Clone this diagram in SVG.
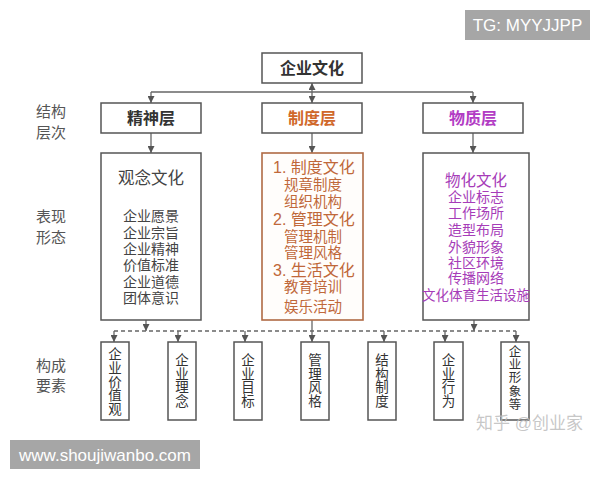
<svg xmlns="http://www.w3.org/2000/svg" width="600" height="480" viewBox="0 0 600 480">
<defs>
<marker id="ah" viewBox="0 0 10 10" refX="10" refY="5" markerWidth="7" markerHeight="7" markerUnits="userSpaceOnUse" orient="auto-start-reverse">
<path d="M0,0 L10,5 L0,10 z" fill="#555"/>
</marker>
<style>
text{font-family:"Liberation Sans","Noto Sans CJK SC",sans-serif;}
.box{fill:#fff;stroke:#555;stroke-width:1.5;}
.conn{fill:none;stroke:#666;stroke-width:1.3;}
.dash{fill:none;stroke:#666;stroke-width:1.3;stroke-dasharray:4 3;}
.lbl{font-size:15px;fill:#555;}
.ttl{font-size:16px;font-weight:bold;fill:#333;text-anchor:middle;dominant-baseline:central;}
.mid{fill:#c0683a;}
.pur{fill:#a63cb8;}
.vt{font-size:13.5px;fill:#333;text-anchor:middle;dominant-baseline:central;}
.wm{fill:#a6a6a6;}
.wmt{font-size:17px;fill:#fff;dominant-baseline:central;}
</style>
</defs>
<rect width="600" height="480" fill="#fff"/>

<g id="watermark-tg"><rect class="wm" x="465" y="10" width="125" height="30"/><text class="wmt" x="527.5" y="25.5" text-anchor="middle">TG: MYYJJPP</text></g>

<g id="row-labels" class="lbl">
<text x="36" y="117">结构</text><text x="36" y="138">层次</text>
<text x="36" y="222">表现</text><text x="36" y="243">形态</text>
<text x="36" y="371">构成</text><text x="36" y="391">要素</text>
</g>

<g id="connectors">
<path class="conn" d="M151,92 H473"/>
<path class="conn" d="M151,92 V103" marker-end="url(#ah)"/>
<path class="conn" d="M473,92 V103" marker-end="url(#ah)"/>
<path class="conn" d="M312,83 V103" marker-start="url(#ah)" marker-end="url(#ah)"/>
<path class="conn" d="M151,133 V153" marker-end="url(#ah)"/>
<path class="conn" d="M312,133 V153" marker-end="url(#ah)"/>
<path class="conn" d="M473,133 V153" marker-end="url(#ah)"/>
<path class="conn" d="M146,320 V331" marker-end="url(#ah)"/>
<path class="conn" d="M474,320 V331" marker-end="url(#ah)"/>
<path class="conn" d="M312,320 V342" marker-end="url(#ah)"/>
<path class="dash" d="M114,331 H516"/>
<path class="conn" d="M114,331 V342" marker-end="url(#ah)"/>
<path class="conn" d="M178,331 V342" marker-end="url(#ah)"/>
<path class="conn" d="M245,331 V342" marker-end="url(#ah)"/>
<path class="conn" d="M384,331 V342" marker-end="url(#ah)"/>
<path class="conn" d="M445,331 V342" marker-end="url(#ah)"/>
<path class="conn" d="M516,331 V342" marker-end="url(#ah)"/>
</g>

<g id="n-corp"><rect class="box" x="262" y="53" width="100" height="30"/><text class="ttl" x="312" y="68">企业文化</text></g>
<g id="n-spirit"><rect class="box" x="101" y="103" width="100" height="30"/><text class="ttl" x="151" y="118">精神层</text></g>
<g id="n-system"><rect class="box" x="262" y="103" width="100" height="30"/><text class="ttl" x="312" y="118" style="fill:#d0682a">制度层</text></g>
<g id="n-material"><rect class="box" x="423" y="103" width="100" height="30"/><text class="ttl" x="473" y="118" style="fill:#b23cc4">物质层</text></g>

<g id="n-concept">
<rect class="box" x="101" y="153" width="100" height="167"/>
<text x="151" y="184" font-size="16.5" fill="#444" text-anchor="middle">观念文化</text>
<g font-size="14" fill="#444" text-anchor="middle">
<text x="151" y="221">企业愿景</text>
<text x="151" y="238">企业宗旨</text>
<text x="151" y="254">企业精神</text>
<text x="151" y="270">价值标准</text>
<text x="151" y="287">企业道德</text>
<text x="151" y="303">团体意识</text>
</g>
</g>

<g id="n-institution">
<rect x="262" y="153" width="101" height="167" fill="#fffdfb" stroke="#b06a44" stroke-width="1.6"/>
<g class="mid">
<text x="273" y="173" font-size="16">1. 制度文化</text>
<text x="284" y="190" font-size="14.5">规章制度</text>
<text x="284" y="207" font-size="14.5">组织机构</text>
<text x="273" y="225" font-size="16">2. 管理文化</text>
<text x="284" y="242" font-size="14.5">管理机制</text>
<text x="284" y="258" font-size="14.5">管理风格</text>
<text x="273" y="276" font-size="16">3. 生活文化</text>
<text x="284" y="292" font-size="14.5">教育培训</text>
<text x="284" y="312" font-size="14.5">娱乐活动</text>
</g>
</g>

<g id="n-physical">
<rect class="box" x="423" y="153" width="106" height="167"/>
<g class="pur" text-anchor="middle">
<text x="476" y="186" font-size="15.5">物化文化</text>
<text x="476" y="202" font-size="14">企业标志</text>
<text x="476" y="218" font-size="14">工作场所</text>
<text x="476" y="235" font-size="14">造型布局</text>
<text x="476" y="252" font-size="14">外貌形象</text>
<text x="476" y="268" font-size="14">社区环境</text>
<text x="476" y="283" font-size="14">传播网络</text>
<text x="476" y="300" font-size="13.5">文化体育生活设施</text>
</g>
</g>

<g id="n-e1"><rect class="box" x="101" y="342" width="28" height="78"/><text class="vt"><tspan x="115" y="354">企</tspan><tspan x="115" y="368">业</tspan><tspan x="115" y="381.5">价</tspan><tspan x="115" y="395">值</tspan><tspan x="115" y="408.5">观</tspan></text></g>
<g id="n-e2"><rect class="box" x="168" y="342" width="28" height="78"/><text class="vt"><tspan x="182" y="360">企</tspan><tspan x="182" y="373.5">业</tspan><tspan x="182" y="387">理</tspan><tspan x="182" y="400.5">念</tspan></text></g>
<g id="n-e3"><rect class="box" x="234" y="342" width="28" height="78"/><text class="vt"><tspan x="248" y="360">企</tspan><tspan x="248" y="373.5">业</tspan><tspan x="248" y="387">目</tspan><tspan x="248" y="400.5">标</tspan></text></g>
<g id="n-e4"><rect class="box" x="301" y="342" width="28" height="78"/><text class="vt"><tspan x="315" y="360">管</tspan><tspan x="315" y="373.5">理</tspan><tspan x="315" y="387">风</tspan><tspan x="315" y="400.5">格</tspan></text></g>
<g id="n-e5"><rect class="box" x="368" y="342" width="28" height="78"/><text class="vt"><tspan x="382" y="360">结</tspan><tspan x="382" y="373.5">构</tspan><tspan x="382" y="387">制</tspan><tspan x="382" y="400.5">度</tspan></text></g>
<g id="n-e6"><rect class="box" x="434" y="342" width="29" height="78"/><text class="vt"><tspan x="448.5" y="360">企</tspan><tspan x="448.5" y="373.5">业</tspan><tspan x="448.5" y="387">行</tspan><tspan x="448.5" y="400.5">为</tspan></text></g>
<g id="n-e7"><rect class="box" x="501" y="342" width="28" height="78"/><text class="vt" style="font-size:12.5px"><tspan x="515" y="352">企</tspan><tspan x="515" y="365.2">业</tspan><tspan x="515" y="378.4">形</tspan><tspan x="515" y="391.6">象</tspan><tspan x="515" y="404.8">等</tspan></text></g>

<g id="watermark-zhihu"><text x="476" y="429" font-size="17" fill="#bdbdbd" fill-opacity="0.85">知乎 @创业家</text></g>

<g id="watermark-www"><rect class="wm" x="10" y="440" width="190" height="29"/><text class="wmt" x="105" y="455" text-anchor="middle">www.shoujiwanbo.com</text></g>
</svg>
